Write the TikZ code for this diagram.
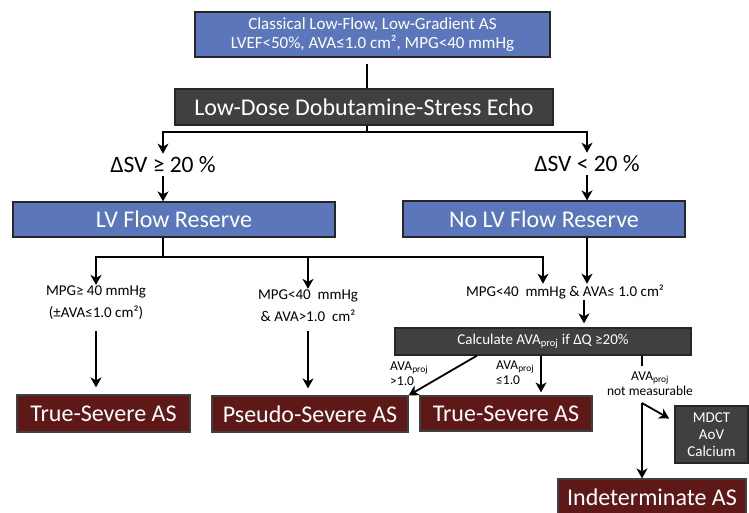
\documentclass[tikz,border=0pt]{standalone}
\usepackage{fontspec}
\setmainfont{Carlito}
\usetikzlibrary{arrows.meta,calc}
\definecolor{stepblue}{RGB}{91,118,186}
\definecolor{echogrey}{RGB}{64,64,64}
\definecolor{verdict}{RGB}{94,24,24}
\tikzset{
  bluebox/.style={draw=black!85, line width=1.2pt, fill=stepblue, text=white,
              inner sep=0pt, align=center},
  greybox/.style={draw=black!85, line width=1.2pt, fill=echogrey, text=white!92,
              inner sep=0pt, align=center},
  redbox/.style={draw=black!75, line width=1.2pt, fill=verdict, text=white!95,
              inner sep=0pt, font=\fontsize{24}{26}\selectfont},
  big/.style={font=\fontsize{24}{26}\selectfont},
  note/.style={inner sep=1pt, align=center, font=\fontsize{15}{22}\selectfont},
  tag/.style={inner sep=1pt, align=center, font=\fontsize{13.5}{15}\selectfont},
  link/.style={black, line width=1.8pt},
  flow/.style={link, -{Stealth[length=10pt, width=11pt, inset=3pt]}},
}
\begin{document}
\begin{tikzpicture}[x=1pt,y=-1pt]
    \useasboundingbox (0,0) rectangle (749,512);
    \node[bluebox, font=\fontsize{17}{18.5}\selectfont, minimum width=355pt, minimum height=45pt] (classic) at (372.5,34.5) {Classical Low-Flow, Low-Gradient AS\\LVEF<50\%, AVA≤1.0 cm², MPG<40 mmHg};
    \node[greybox, big, minimum width=378pt, minimum height=36pt] (dse) at (364,107) {Low-Dose Dobutamine-Stress Echo};
    \node[note, inner sep=3pt, font=\fontsize{23.5}{25}\selectfont] (dsvup) at (163,165) {ΔSV ≥ 20 \%};
    \node[note, inner sep=3pt, font=\fontsize{23.5}{25}\selectfont] (dsvlow) at (587,164) {ΔSV < 20 \%};
    \node[bluebox, big, minimum width=322pt, minimum height=35pt] (lvfr) at (174,219.5) {LV Flow Reserve};
    \node[bluebox, big, minimum width=282pt, minimum height=36pt] (nolvfr) at (544,219) {No LV Flow Reserve};
    \node[note] (mpghigh) at (96,303) {MPG≥ 40 mmHg\\(±AVA≤1.0 cm²)};
    \node[note] (mpgpseudo) at (308,306) {MPG<40~~mmHg\\\& AVA>1.0~~cm²};
    \node[note] (mpglow) at (565,292) {MPG<40~~mmHg \& AVA≤ 1.0 cm²};
    \node[greybox, font=\fontsize{15}{17}\selectfont, minimum width=296pt, minimum height=27pt] (calc) at (543,341.5) {Calculate AVA\textsubscript{proj} if ΔQ ≥20\%};
    \node[tag, align=left, anchor=west] (projhigh) at (389,374) {AVA\textsubscript{proj}\\>1.0};
    \node[tag, align=left, anchor=west] (projlow) at (495,373) {AVA\textsubscript{proj}\\≤1.0};
    \node[tag] (projnone) at (650,384) {AVA\textsubscript{proj}\\not measurable};
    \node[redbox, minimum width=173pt, minimum height=37pt] (truesevA) at (103.5,413.5) {True-Severe AS};
    \node[redbox, minimum width=196pt, minimum height=36pt] (pseudo) at (310,414) {Pseudo-Severe AS};
    \node[redbox, minimum width=172pt, minimum height=35pt] (truesevB) at (506,413.5) {True-Severe AS};
    \node[greybox, font=\fontsize{15}{17}\selectfont, minimum width=73pt, minimum height=57pt] (mdct) at (711.5,434.5) {MDCT\\AoV\\Calcium};
    \node[redbox, minimum width=188pt, minimum height=37pt] (indet) at (652,497.5) {Indeterminate AS};
    % stress echo split
    \coordinate (split) at (367,132);
    \draw[link, shorten <=6pt] (classic.south -| split) -- (dse.north -| split);
    \draw[link] (dse.south -| split) -- (split);
    \draw[flow] (split) -| (dsvup);
    \draw[flow] (split) -| (dsvlow);
    \draw[flow] (dsvup) -- (dsvup |- lvfr.north);
    \draw[flow] (dsvlow) -- (dsvlow |- nolvfr.north);
    % flow reserve branches
    \coordinate (fork) at (163,257);
    \draw[link] (lvfr.south -| fork) -- (fork);
    \draw[flow] (fork) -| (mpghigh);
    \draw[flow] (fork) -| (mpgpseudo);
    \draw[flow] (fork) -| (mpglow.north -| calc);
    \draw[flow] (nolvfr.south -| dsvlow) -- (mpglow.north -| dsvlow);
    \draw[flow, shorten <=10pt, shorten >=7pt] (mpghigh) -- (mpghigh |- truesevA.north);
    \draw[flow, shorten <=8pt, shorten >=7pt] (mpgpseudo) -- (mpgpseudo |- pseudo.north);
    \draw[flow, shorten >=4pt] ([xshift=19pt]mpglow.south) -- ([xshift=19pt]mpglow.south |- calc.north);
    % projected valve area
    \draw[flow] ([xshift=-66pt]calc.south) -- (pseudo.north east);
    \draw[flow, shorten >=3pt] ([xshift=-2pt]calc.south) -- ([xshift=-2pt]calc.south |- truesevB.north);
    \coordinate (nmfork) at (642,403);
    \draw[link] (calc.south -| nmfork) -- ++(0,10);
    \draw[flow, shorten >=6pt] (nmfork) -- ([yshift=13pt]mdct.west);
    \draw[flow] (nmfork) -- (nmfork |- indet.north);
\end{tikzpicture}
\end{document}
